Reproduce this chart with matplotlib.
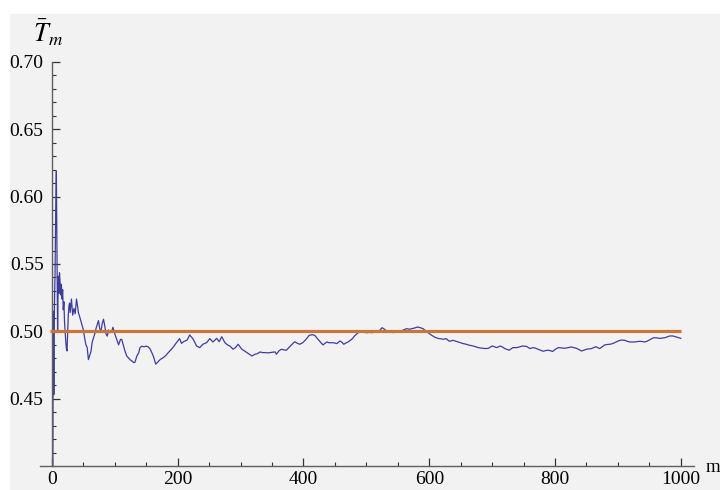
import matplotlib
matplotlib.use("Agg")
import matplotlib.pyplot as plt
from matplotlib.patches import Rectangle
from matplotlib.ticker import MultipleLocator, FixedLocator

# ---- data ----
m_values = [1, 2, 3, 4, 5, 6, 7, 8, 9, 10, 11, 12, 13, 14, 15, 16, 17, 18, 19, 20,
            21, 22, 23, 24, 25, 26, 27, 28, 29, 31, 33, 35, 37, 39, 41, 42, 44, 47, 50, 52,
            54, 56, 58, 60, 62, 64, 66, 68, 70, 72, 74, 76, 78, 80, 82, 84, 86, 88, 90, 92,
            95, 97, 100, 103, 106, 109, 111, 114, 116, 119, 121, 124, 127, 130, 132, 135, 138, 140, 143, 146,
            150, 153, 156, 159, 162, 165, 168, 172, 177, 181, 185, 190, 194, 198, 203, 206, 210, 215, 219, 224,
            227, 230, 235, 240, 246, 251, 256, 262, 266, 270, 275, 279, 283, 288, 292, 296, 302, 306, 310, 314,
            318, 323, 327, 331, 335, 339, 343, 347, 351, 355, 357, 361, 365, 369, 373, 378, 382, 386, 390, 394,
            399, 404, 409, 414, 418, 423, 427, 431, 437, 441, 445, 449, 453, 458, 461, 464, 468, 471, 475, 478,
            481, 484, 487, 490, 495, 500, 505, 510, 516, 520, 525, 529, 532, 537, 540, 543, 548, 553, 559, 564,
            569, 572, 577, 581, 585, 590, 594, 598, 603, 609, 615, 618, 622, 627, 632, 638, 642, 646, 650, 654,
            658, 662, 666, 670, 674, 678, 682, 686, 690, 694, 700, 704, 707, 713, 717, 720, 727, 733, 739, 744,
            748, 755, 760, 765, 769, 773, 777, 781, 785, 789, 793, 796, 800, 805, 810, 815, 820, 826, 830, 834,
            838, 842, 846, 850, 855, 858, 865, 871, 875, 879, 883, 887, 891, 895, 899, 903, 907, 911, 915, 919,
            923, 927, 931, 935, 939, 943, 947, 950, 954, 957, 962, 967, 971, 975, 979, 982, 985, 988, 993, 997,
            1000]
tbar_values = [0.30, 0.515, 0.453, 0.52, 0.545, 0.59, 0.619, 0.56, 0.499, 0.541, 0.528, 0.5435, 0.536, 0.527, 0.535, 0.524, 0.531, 0.516, 0.522, 0.507,
               0.499, 0.492, 0.487, 0.4854, 0.498, 0.512, 0.519, 0.521, 0.514, 0.524, 0.512, 0.517, 0.513, 0.524, 0.518, 0.514, 0.511, 0.506, 0.501, 0.495,
               0.490, 0.488, 0.479, 0.482, 0.485, 0.492, 0.495, 0.498, 0.502, 0.505, 0.508, 0.502, 0.500, 0.506, 0.509, 0.504, 0.498, 0.4965, 0.501, 0.499,
               0.500, 0.503, 0.498, 0.494, 0.490, 0.494, 0.494, 0.489, 0.4855, 0.4817, 0.4806, 0.479, 0.478, 0.4768, 0.477, 0.4817, 0.484, 0.488, 0.489, 0.4885,
               0.489, 0.4885, 0.487, 0.484, 0.4805, 0.4756, 0.477, 0.479, 0.4805, 0.482, 0.4842, 0.4867, 0.489, 0.4916, 0.4946, 0.4911, 0.4925, 0.4935, 0.4973, 0.4946,
               0.492, 0.4891, 0.4879, 0.4904, 0.4916, 0.4946, 0.4921, 0.4948, 0.4923, 0.496, 0.4916, 0.490, 0.4891, 0.4867, 0.488, 0.4904, 0.4867, 0.4855, 0.4842, 0.4830,
               0.4817, 0.483, 0.4835, 0.4847, 0.4842, 0.4842, 0.484, 0.4842, 0.4845, 0.4847, 0.483, 0.4855, 0.4867, 0.4862, 0.486, 0.4886, 0.4905, 0.4923, 0.4912, 0.4904,
               0.4916, 0.494, 0.497, 0.4975, 0.497, 0.4941, 0.492, 0.4899, 0.4921, 0.4915, 0.4916, 0.4914, 0.4909, 0.4928, 0.492, 0.4904, 0.4915, 0.4921, 0.4935, 0.4946,
               0.4965, 0.4978, 0.499, 0.4995, 0.4993, 0.4990, 0.4992, 0.499, 0.5005, 0.500, 0.5027, 0.5015, 0.500, 0.4995, 0.4995, 0.499, 0.4998, 0.500, 0.501, 0.502,
               0.5015, 0.502, 0.5025, 0.5032, 0.5028, 0.502, 0.5005, 0.499, 0.4973, 0.4956, 0.4946, 0.4945, 0.4941, 0.4946, 0.4926, 0.4933, 0.4927, 0.4921, 0.4915, 0.4909,
               0.4905, 0.4899, 0.4895, 0.4891, 0.4885, 0.4879, 0.4876, 0.4874, 0.4872, 0.4874, 0.4891, 0.4885, 0.4879, 0.4891, 0.4882, 0.4872, 0.486, 0.4879, 0.4879, 0.4885,
               0.4891, 0.4888, 0.4872, 0.4879, 0.4875, 0.4867, 0.486, 0.4852, 0.4857, 0.486, 0.4856, 0.485, 0.4865, 0.4879, 0.4877, 0.4874, 0.4878, 0.4884, 0.4879, 0.4874,
               0.4865, 0.4854, 0.486, 0.4867, 0.487, 0.4872, 0.4886, 0.4872, 0.4885, 0.4899, 0.4902, 0.4904, 0.4908, 0.4916, 0.4925, 0.4933, 0.4935, 0.4933, 0.4926, 0.4921,
               0.4921, 0.4921, 0.4924, 0.4926, 0.4924, 0.4921, 0.4928, 0.4936, 0.4946, 0.4953, 0.4951, 0.4948, 0.495, 0.4953, 0.496, 0.4965, 0.4966, 0.4965, 0.4958, 0.4952,
               0.4948]
reference_level = 0.5
x_ticks = [0, 200, 400, 600, 800, 1000]
y_ticks = [0.45, 0.50, 0.55, 0.60, 0.65, 0.70]
y_tick_labels = ["0.45", "0.50", "0.55", "0.60", "0.65", "0.70"]

plt.rcParams['mathtext.fontset'] = 'stix'
serif = ['Liberation Serif', 'DejaVu Serif']

fig = plt.figure(figsize=(7.2, 4.9), dpi=100, facecolor='white')
bg = '#f2f2f2'
fig.patches.append(Rectangle((10 / 720, 0), 1 - 10 / 720, 1 - 14 / 490,
                             transform=fig.transFigure, facecolor=bg, edgecolor='none', zorder=-10))

ax = fig.add_axes([40 / 720, 24 / 490, 654 / 720, 404 / 490])
ax.set_facecolor('none')
ax.set_xlim(-19, 1021)
ax.set_ylim(0.40, 0.70)

ax.plot(m_values, tbar_values, color='#3d3d9e', lw=0.9, zorder=2)
ax.plot([-3, 1001], [reference_level, reference_level], color='#c97638', lw=2.3,
        solid_capstyle='butt', zorder=3)

for s in ['top', 'right']:
    ax.spines[s].set_visible(False)
ax.spines['left'].set_position(('data', 0))
for s in ['left', 'bottom']:
    ax.spines[s].set_color('#5f5f5f')
    ax.spines[s].set_linewidth(1.0)

ax.xaxis.set_major_locator(FixedLocator(x_ticks))
ax.xaxis.set_minor_locator(MultipleLocator(50))
ax.yaxis.set_major_locator(FixedLocator(y_ticks))
ax.yaxis.set_minor_locator(MultipleLocator(0.01))
ax.set_yticklabels(y_tick_labels)
ax.set_xticklabels([str(v) for v in x_ticks])

ax.tick_params(axis='both', which='major', direction='in', length=5.5, width=0.9,
               color='#333333', labelsize=14)
ax.tick_params(axis='both', which='minor', direction='in', length=3.2, width=0.8,
               color='#333333')
ax.tick_params(axis='y', which='major', pad=6)
ax.tick_params(axis='x', which='major', pad=3.5)
for lab in ax.get_xticklabels() + ax.get_yticklabels():
    lab.set_family(serif)

fig.text(48 / 720, 1 - 33 / 490, r'$\bar{T}_m$', fontsize=19, ha='center', va='center')
fig.text(706 / 720, 1 - 467 / 490, 'm', fontsize=13.5, ha='left', va='center', family=serif)

fig.savefig('out.png', dpi=100, facecolor='white')
